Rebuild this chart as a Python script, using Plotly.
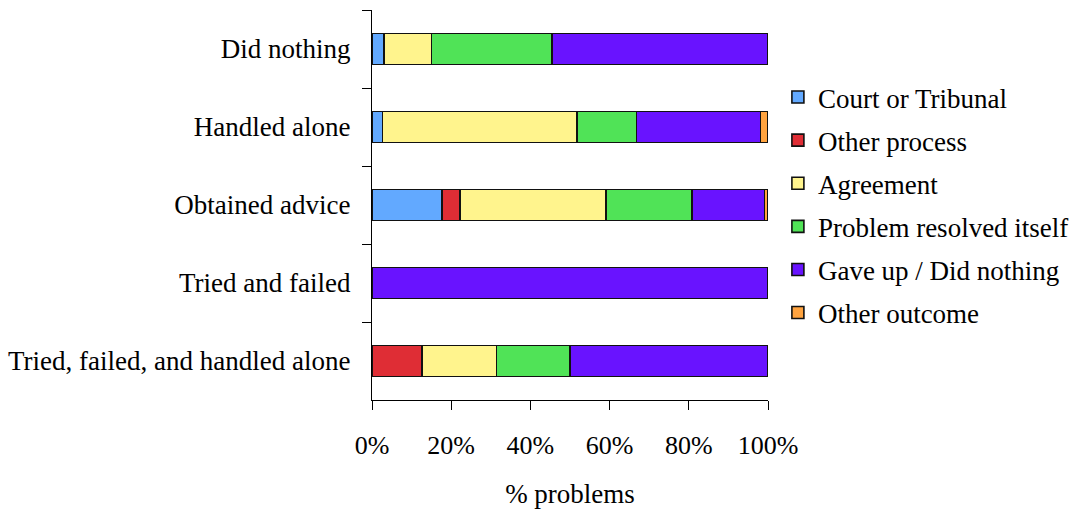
import plotly.graph_objects as go

# Problem-handling strategies (top to bottom) and outcome shares in %
strategies = [
    "Did nothing",
    "Handled alone",
    "Obtained advice",
    "Tried and failed",
    "Tried, failed, and handled alone",
]
court_or_tribunal = [3.1, 2.7, 17.7, 0.0, 0.0]
other_process = [0.0, 0.0, 4.5, 0.0, 12.6]
agreement = [11.9, 49.1, 36.9, 0.0, 18.8]
resolved_itself = [30.4, 15.0, 21.7, 0.0, 18.6]
gave_up = [54.6, 31.3, 18.3, 100.0, 50.0]
other_outcome = [0.0, 1.9, 0.9, 0.0, 0.0]

series = [
    ("Court or Tribunal", court_or_tribunal, "#62A9FF"),
    ("Other process", other_process, "#DF2D35"),
    ("Agreement", agreement, "#FFF48D"),
    ("Problem resolved itself", resolved_itself, "#50E357"),
    ("Gave up / Did nothing", gave_up, "#6913FF"),
    ("Other outcome", other_outcome, "#FFA33F"),
]

FONT = "Liberation Serif, Times New Roman, serif"

fig = go.Figure()
for i, (name, vals, color) in enumerate(series):
    fig.add_trace(go.Bar(
        y=strategies,
        x=vals,
        name=name,
        orientation="h",
        legendgroup=f"g{i}",
        marker=dict(color=color, line=dict(color="#111111", width=1.6)),
    ))

fig.update_layout(
    barmode="stack",
    bargap=0.6,
    width=1077,
    height=516,
    margin=dict(l=372, r=309, t=10, b=116, autoexpand=False),
    paper_bgcolor="white",
    plot_bgcolor="white",
    font=dict(family=FONT, size=27, color="black"),
    legend=dict(
        x=1.025, xanchor="left", xref="paper",
        y=0.5, yanchor="middle",
        traceorder="grouped",
        tracegroupgap=5,
        font=dict(family=FONT, size=27, color="black"),
        itemwidth=30,
        bgcolor="rgba(0,0,0,0)",
    ),
    xaxis=dict(
        range=[0, 100],
        tickvals=[0, 20, 40, 60, 80, 100],
        ticktext=["0%", "20%", "40%", "60%", "80%", "100%"],
        tickfont=dict(family=FONT, size=26, color="black"),
        showgrid=False,
        zeroline=False,
        showline=True,
        linecolor="black",
        linewidth=1.3,
        ticks="outside",
        ticklen=9,
        tickcolor="black",
        tickwidth=1.3,
        ticklabelstandoff=13,
        title=dict(text="% problems", standoff=24,
                   font=dict(family=FONT, size=27, color="black")),
    ),
    yaxis=dict(
        autorange="reversed",
        showgrid=False,
        zeroline=False,
        showline=True,
        linecolor="black",
        linewidth=1.3,
        ticks="outside",
        tickson="boundaries",
        ticklen=9,
        tickcolor="black",
        tickwidth=1.3,
        ticklabelstandoff=15,
    ),
)

fig.write_html("out.html")
